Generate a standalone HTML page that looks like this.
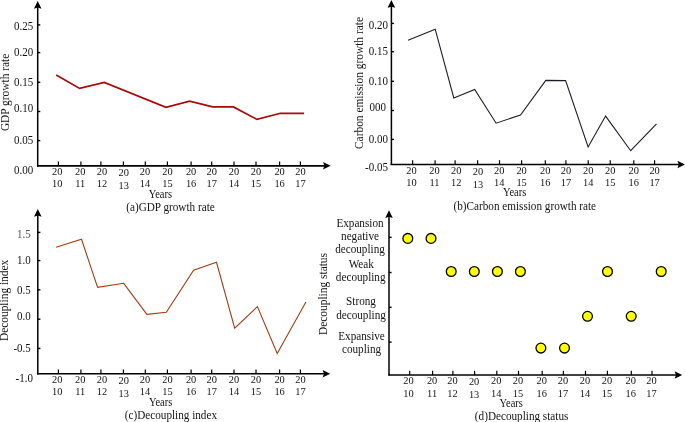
<!DOCTYPE html>
<html><head><meta charset="utf-8"><style>
html,body{margin:0;padding:0;background:#fff;}
svg{display:block;font-family:"Liberation Serif",serif;}
text{fill:#111;}
</style></head><body>
<svg width="685" height="422" viewBox="0 0 685 422">
<rect width="685" height="422" fill="#fff"/>
<line x1="37.7" y1="7" x2="37.7" y2="166.6" stroke="#000" stroke-width="1.5"/>
<polygon points="37.7,1 33.9,8.7 37.7,7.6 41.5,8.7" fill="#000"/>
<line x1="37" y1="165.8" x2="324.6" y2="165.8" stroke="#000" stroke-width="1.65"/>
<polygon points="330.6,165.8 323.0,162.0 324.4,165.8 323.0,169.6" fill="#000"/>
<line x1="58.4" y1="161.5" x2="58.4" y2="165.8" stroke="#000" stroke-width="1.2"/>
<line x1="80.9" y1="161.5" x2="80.9" y2="165.8" stroke="#000" stroke-width="1.2"/>
<line x1="100.9" y1="161.5" x2="100.9" y2="165.8" stroke="#000" stroke-width="1.2"/>
<line x1="123.4" y1="161.5" x2="123.4" y2="165.8" stroke="#000" stroke-width="1.2"/>
<line x1="145.3" y1="161.5" x2="145.3" y2="165.8" stroke="#000" stroke-width="1.2"/>
<line x1="167.4" y1="161.5" x2="167.4" y2="165.8" stroke="#000" stroke-width="1.2"/>
<line x1="191.1" y1="161.5" x2="191.1" y2="165.8" stroke="#000" stroke-width="1.2"/>
<line x1="211.7" y1="161.5" x2="211.7" y2="165.8" stroke="#000" stroke-width="1.2"/>
<line x1="234" y1="161.5" x2="234" y2="165.8" stroke="#000" stroke-width="1.2"/>
<line x1="256" y1="161.5" x2="256" y2="165.8" stroke="#000" stroke-width="1.2"/>
<line x1="279.6" y1="161.5" x2="279.6" y2="165.8" stroke="#000" stroke-width="1.2"/>
<line x1="300.4" y1="161.5" x2="300.4" y2="165.8" stroke="#000" stroke-width="1.2"/>
<line x1="37.7" y1="24.9" x2="40.3" y2="24.9" stroke="#000" stroke-width="1.4"/>
<line x1="37.7" y1="52.6" x2="40.3" y2="52.6" stroke="#000" stroke-width="1.4"/>
<line x1="37.7" y1="82.3" x2="40.3" y2="82.3" stroke="#000" stroke-width="1.4"/>
<line x1="37.7" y1="111.5" x2="40.3" y2="111.5" stroke="#000" stroke-width="1.4"/>
<line x1="37.7" y1="140.6" x2="40.3" y2="140.6" stroke="#000" stroke-width="1.4"/>
<polyline points="56.2,75 79.6,88.4 104.3,82.5 166,107.4 189.6,101.2 212.6,106.9 233.4,106.9 257,119.4 280.4,113.3 304.1,113.3" fill="none" stroke="#a80808" stroke-width="1.7" stroke-linejoin="miter"/>
<line x1="391.4" y1="6.1" x2="391.4" y2="164.9" stroke="#000" stroke-width="1.5"/>
<polygon points="391.4,0.1 387.6,7.8 391.4,6.7 395.2,7.8" fill="#000"/>
<line x1="390.6" y1="164.5" x2="679" y2="164.5" stroke="#000" stroke-width="1.65"/>
<polygon points="685,164.5 677.4,160.7 678.8,164.5 677.4,168.3" fill="#000"/>
<line x1="412.6" y1="160.2" x2="412.6" y2="164.5" stroke="#000" stroke-width="1.2"/>
<line x1="435.1" y1="160.2" x2="435.1" y2="164.5" stroke="#000" stroke-width="1.2"/>
<line x1="455.1" y1="160.2" x2="455.1" y2="164.5" stroke="#000" stroke-width="1.2"/>
<line x1="477.6" y1="160.2" x2="477.6" y2="164.5" stroke="#000" stroke-width="1.2"/>
<line x1="499.5" y1="160.2" x2="499.5" y2="164.5" stroke="#000" stroke-width="1.2"/>
<line x1="521.6" y1="160.2" x2="521.6" y2="164.5" stroke="#000" stroke-width="1.2"/>
<line x1="545.3" y1="160.2" x2="545.3" y2="164.5" stroke="#000" stroke-width="1.2"/>
<line x1="565.9" y1="160.2" x2="565.9" y2="164.5" stroke="#000" stroke-width="1.2"/>
<line x1="588.2" y1="160.2" x2="588.2" y2="164.5" stroke="#000" stroke-width="1.2"/>
<line x1="610.2" y1="160.2" x2="610.2" y2="164.5" stroke="#000" stroke-width="1.2"/>
<line x1="633.8" y1="160.2" x2="633.8" y2="164.5" stroke="#000" stroke-width="1.2"/>
<line x1="654.6" y1="160.2" x2="654.6" y2="164.5" stroke="#000" stroke-width="1.2"/>
<line x1="391.3" y1="23.4" x2="393.9" y2="23.4" stroke="#000" stroke-width="1.4"/>
<line x1="391.3" y1="51.7" x2="393.9" y2="51.7" stroke="#000" stroke-width="1.4"/>
<line x1="391.3" y1="81.3" x2="393.9" y2="81.3" stroke="#000" stroke-width="1.4"/>
<line x1="391.3" y1="110.5" x2="393.9" y2="110.5" stroke="#000" stroke-width="1.4"/>
<line x1="391.3" y1="139.4" x2="393.9" y2="139.4" stroke="#000" stroke-width="1.4"/>
<polyline points="408.1,40.3 435.2,29.2 453.8,97.9 474.7,89.4 496.1,123.2 520.5,115 545.8,80.4 565.6,80.6 588.1,146.9 605.6,116.1 630.7,150.7 656.5,123.9" fill="none" stroke="#1c1c28" stroke-width="1.1" stroke-linejoin="miter"/>
<line x1="37.8" y1="215" x2="37.8" y2="374.5" stroke="#000" stroke-width="1.5"/>
<polygon points="37.8,209 34.0,216.7 37.8,215.6 41.6,216.7" fill="#000"/>
<line x1="37" y1="373.7" x2="324.2" y2="373.7" stroke="#000" stroke-width="1.65"/>
<polygon points="330.2,373.7 322.6,369.9 324.0,373.7 322.6,377.5" fill="#000"/>
<line x1="58.4" y1="369.4" x2="58.4" y2="373.7" stroke="#000" stroke-width="1.2"/>
<line x1="80.9" y1="369.4" x2="80.9" y2="373.7" stroke="#000" stroke-width="1.2"/>
<line x1="100.9" y1="369.4" x2="100.9" y2="373.7" stroke="#000" stroke-width="1.2"/>
<line x1="123.4" y1="369.4" x2="123.4" y2="373.7" stroke="#000" stroke-width="1.2"/>
<line x1="145.3" y1="369.4" x2="145.3" y2="373.7" stroke="#000" stroke-width="1.2"/>
<line x1="167.4" y1="369.4" x2="167.4" y2="373.7" stroke="#000" stroke-width="1.2"/>
<line x1="191.1" y1="369.4" x2="191.1" y2="373.7" stroke="#000" stroke-width="1.2"/>
<line x1="211.7" y1="369.4" x2="211.7" y2="373.7" stroke="#000" stroke-width="1.2"/>
<line x1="234" y1="369.4" x2="234" y2="373.7" stroke="#000" stroke-width="1.2"/>
<line x1="256" y1="369.4" x2="256" y2="373.7" stroke="#000" stroke-width="1.2"/>
<line x1="279.6" y1="369.4" x2="279.6" y2="373.7" stroke="#000" stroke-width="1.2"/>
<line x1="300.4" y1="369.4" x2="300.4" y2="373.7" stroke="#000" stroke-width="1.2"/>
<line x1="37.8" y1="232.4" x2="40.4" y2="232.4" stroke="#000" stroke-width="1.4"/>
<line x1="37.8" y1="260.6" x2="40.4" y2="260.6" stroke="#000" stroke-width="1.4"/>
<line x1="37.8" y1="289.8" x2="40.4" y2="289.8" stroke="#000" stroke-width="1.4"/>
<line x1="37.8" y1="319.2" x2="40.4" y2="319.2" stroke="#000" stroke-width="1.4"/>
<line x1="37.8" y1="348.4" x2="40.4" y2="348.4" stroke="#000" stroke-width="1.4"/>
<polyline points="56.1,247.3 81.5,239.3 97.6,287.3 123.7,283.3 146.9,314.3 166.3,312.3 193.6,270.3 216.5,262.3 234.7,328.2 257.4,306.6 277.2,353.5 305.9,302.1" fill="none" stroke="#a03e10" stroke-width="1.1" stroke-linejoin="miter"/>
<line x1="389" y1="216.2" x2="389" y2="375.5" stroke="#000" stroke-width="1.5"/>
<polygon points="389,210.2 385.2,217.9 389,216.8 392.8,217.9" fill="#000"/>
<line x1="388.3" y1="375.0" x2="676.2" y2="375.0" stroke="#000" stroke-width="1.65"/>
<polygon points="682.2,375.0 674.6,371.2 676.0,375.0 674.6,378.8" fill="#000"/>
<line x1="409.7" y1="370.7" x2="409.7" y2="375.0" stroke="#000" stroke-width="1.2"/>
<line x1="432.6" y1="370.7" x2="432.6" y2="375.0" stroke="#000" stroke-width="1.2"/>
<line x1="452.9" y1="370.7" x2="452.9" y2="375.0" stroke="#000" stroke-width="1.2"/>
<line x1="474.6" y1="370.7" x2="474.6" y2="375.0" stroke="#000" stroke-width="1.2"/>
<line x1="496.8" y1="370.7" x2="496.8" y2="375.0" stroke="#000" stroke-width="1.2"/>
<line x1="518.5" y1="370.7" x2="518.5" y2="375.0" stroke="#000" stroke-width="1.2"/>
<line x1="542.2" y1="370.7" x2="542.2" y2="375.0" stroke="#000" stroke-width="1.2"/>
<line x1="563.4" y1="370.7" x2="563.4" y2="375.0" stroke="#000" stroke-width="1.2"/>
<line x1="585.5" y1="370.7" x2="585.5" y2="375.0" stroke="#000" stroke-width="1.2"/>
<line x1="607.4" y1="370.7" x2="607.4" y2="375.0" stroke="#000" stroke-width="1.2"/>
<line x1="631.3" y1="370.7" x2="631.3" y2="375.0" stroke="#000" stroke-width="1.2"/>
<line x1="652" y1="370.7" x2="652" y2="375.0" stroke="#000" stroke-width="1.2"/>
<line x1="389" y1="237.3" x2="391.6" y2="237.3" stroke="#000" stroke-width="1.4"/>
<line x1="389" y1="272.5" x2="391.6" y2="272.5" stroke="#000" stroke-width="1.4"/>
<line x1="389" y1="307.3" x2="391.6" y2="307.3" stroke="#000" stroke-width="1.4"/>
<line x1="389" y1="342.1" x2="391.6" y2="342.1" stroke="#000" stroke-width="1.4"/>
<circle cx="407.8" cy="238.4" r="4.9" fill="#ffff00" stroke="#000" stroke-width="1.3"/>
<circle cx="431" cy="238.4" r="4.9" fill="#ffff00" stroke="#000" stroke-width="1.3"/>
<circle cx="451.2" cy="271.5" r="4.9" fill="#ffff00" stroke="#000" stroke-width="1.3"/>
<circle cx="474.3" cy="271.5" r="4.9" fill="#ffff00" stroke="#000" stroke-width="1.3"/>
<circle cx="497.4" cy="271.5" r="4.9" fill="#ffff00" stroke="#000" stroke-width="1.3"/>
<circle cx="520.4" cy="271.5" r="4.9" fill="#ffff00" stroke="#000" stroke-width="1.3"/>
<circle cx="607.5" cy="271.5" r="4.9" fill="#ffff00" stroke="#000" stroke-width="1.3"/>
<circle cx="661.2" cy="271.5" r="4.9" fill="#ffff00" stroke="#000" stroke-width="1.3"/>
<circle cx="587.5" cy="316.3" r="4.9" fill="#ffff00" stroke="#000" stroke-width="1.3"/>
<circle cx="631.2" cy="316.3" r="4.9" fill="#ffff00" stroke="#000" stroke-width="1.3"/>
<circle cx="540.9" cy="348.1" r="4.9" fill="#ffff00" stroke="#000" stroke-width="1.3"/>
<circle cx="564.5" cy="348.1" r="4.9" fill="#ffff00" stroke="#000" stroke-width="1.3"/>
<g opacity="0.99">
<text transform="translate(57.3,174.8) scale(1,1.08)" text-anchor="middle" font-size="10.4">20</text>
<text transform="translate(57.3,187.4) scale(1,1.08)" text-anchor="middle" font-size="10.4">10</text>
<text transform="translate(80.2,174.8) scale(1,1.08)" text-anchor="middle" font-size="10.4">20</text>
<text transform="translate(80.2,187.4) scale(1,1.08)" text-anchor="middle" font-size="10.4">11</text>
<text transform="translate(102,174.8) scale(1,1.08)" text-anchor="middle" font-size="10.4">20</text>
<text transform="translate(102,187.4) scale(1,1.08)" text-anchor="middle" font-size="10.4">12</text>
<text transform="translate(123.8,176.0) scale(1,1.08)" text-anchor="middle" font-size="10.4">20</text>
<text transform="translate(123.8,188.6) scale(1,1.08)" text-anchor="middle" font-size="10.4">13</text>
<text transform="translate(145,174.8) scale(1,1.08)" text-anchor="middle" font-size="10.4">20</text>
<text transform="translate(145,187.4) scale(1,1.08)" text-anchor="middle" font-size="10.4">14</text>
<text transform="translate(167.4,174.8) scale(1,1.08)" text-anchor="middle" font-size="10.4">20</text>
<text transform="translate(167.4,187.4) scale(1,1.08)" text-anchor="middle" font-size="10.4">15</text>
<text transform="translate(191.1,174.8) scale(1,1.08)" text-anchor="middle" font-size="10.4">20</text>
<text transform="translate(191.1,187.4) scale(1,1.08)" text-anchor="middle" font-size="10.4">16</text>
<text transform="translate(211.7,174.8) scale(1,1.08)" text-anchor="middle" font-size="10.4">20</text>
<text transform="translate(211.7,187.4) scale(1,1.08)" text-anchor="middle" font-size="10.4">17</text>
<text transform="translate(234,174.8) scale(1,1.08)" text-anchor="middle" font-size="10.4">20</text>
<text transform="translate(234,187.4) scale(1,1.08)" text-anchor="middle" font-size="10.4">14</text>
<text transform="translate(256,174.8) scale(1,1.08)" text-anchor="middle" font-size="10.4">20</text>
<text transform="translate(256,187.4) scale(1,1.08)" text-anchor="middle" font-size="10.4">15</text>
<text transform="translate(279.6,174.8) scale(1,1.08)" text-anchor="middle" font-size="10.4">20</text>
<text transform="translate(279.6,187.4) scale(1,1.08)" text-anchor="middle" font-size="10.4">16</text>
<text transform="translate(300.4,174.8) scale(1,1.08)" text-anchor="middle" font-size="10.4">20</text>
<text transform="translate(300.4,187.4) scale(1,1.08)" text-anchor="middle" font-size="10.4">17</text>
<text transform="translate(33.2,29.5) scale(1,1.17)" text-anchor="end" font-size="11">0.25</text>
<text transform="translate(33.2,56.1) scale(1,1.17)" text-anchor="end" font-size="11">0.20</text>
<text transform="translate(33.2,86.1) scale(1,1.17)" text-anchor="end" font-size="11">0.15</text>
<text transform="translate(33.2,112.2) scale(1,1.17)" text-anchor="end" font-size="11">0.10</text>
<text transform="translate(33.2,143.8) scale(1,1.17)" text-anchor="end" font-size="11">0.05</text>
<text transform="translate(33.2,173.6) scale(1,1.17)" text-anchor="end" font-size="11">0.00</text>
<text transform="translate(160.4,197.5) scale(1,1.12)" text-anchor="middle" font-size="10.5">Years</text>
<text transform="translate(170.5,211.1) scale(1,1.17)" text-anchor="middle" font-size="11.2">(a)GDP growth rate</text>
<text transform="translate(8.5,92.4) rotate(-90) scale(1,1.04)" text-anchor="middle" font-size="11.4">GDP growth rate</text>
<text transform="translate(411.5,174.1) scale(1,1.08)" text-anchor="middle" font-size="10.4">20</text>
<text transform="translate(411.5,186.4) scale(1,1.08)" text-anchor="middle" font-size="10.4">10</text>
<text transform="translate(434.4,174.1) scale(1,1.08)" text-anchor="middle" font-size="10.4">20</text>
<text transform="translate(434.4,186.4) scale(1,1.08)" text-anchor="middle" font-size="10.4">11</text>
<text transform="translate(456.2,174.1) scale(1,1.08)" text-anchor="middle" font-size="10.4">20</text>
<text transform="translate(456.2,186.4) scale(1,1.08)" text-anchor="middle" font-size="10.4">12</text>
<text transform="translate(478.0,175.3) scale(1,1.08)" text-anchor="middle" font-size="10.4">20</text>
<text transform="translate(478.0,187.6) scale(1,1.08)" text-anchor="middle" font-size="10.4">13</text>
<text transform="translate(499.2,174.1) scale(1,1.08)" text-anchor="middle" font-size="10.4">20</text>
<text transform="translate(499.2,186.4) scale(1,1.08)" text-anchor="middle" font-size="10.4">14</text>
<text transform="translate(521.6,174.1) scale(1,1.08)" text-anchor="middle" font-size="10.4">20</text>
<text transform="translate(521.6,186.4) scale(1,1.08)" text-anchor="middle" font-size="10.4">15</text>
<text transform="translate(545.3,174.1) scale(1,1.08)" text-anchor="middle" font-size="10.4">20</text>
<text transform="translate(545.3,186.4) scale(1,1.08)" text-anchor="middle" font-size="10.4">16</text>
<text transform="translate(565.9,174.1) scale(1,1.08)" text-anchor="middle" font-size="10.4">20</text>
<text transform="translate(565.9,186.4) scale(1,1.08)" text-anchor="middle" font-size="10.4">17</text>
<text transform="translate(588.2,174.1) scale(1,1.08)" text-anchor="middle" font-size="10.4">20</text>
<text transform="translate(588.2,186.4) scale(1,1.08)" text-anchor="middle" font-size="10.4">14</text>
<text transform="translate(610.2,174.1) scale(1,1.08)" text-anchor="middle" font-size="10.4">20</text>
<text transform="translate(610.2,186.4) scale(1,1.08)" text-anchor="middle" font-size="10.4">15</text>
<text transform="translate(633.8,174.1) scale(1,1.08)" text-anchor="middle" font-size="10.4">20</text>
<text transform="translate(633.8,186.4) scale(1,1.08)" text-anchor="middle" font-size="10.4">16</text>
<text transform="translate(654.6,174.1) scale(1,1.08)" text-anchor="middle" font-size="10.4">20</text>
<text transform="translate(654.6,186.4) scale(1,1.08)" text-anchor="middle" font-size="10.4">17</text>
<text transform="translate(388,28.5) scale(1,1.17)" text-anchor="end" font-size="11">0.20</text>
<text transform="translate(388,55) scale(1,1.17)" text-anchor="end" font-size="11">0.15</text>
<text transform="translate(388,84.7) scale(1,1.17)" text-anchor="end" font-size="11">0.10</text>
<text transform="translate(386,111.2) scale(1,1.17)" text-anchor="end" font-size="11">000</text>
<text transform="translate(388,143.1) scale(1,1.17)" text-anchor="end" font-size="11">0.00</text>
<text transform="translate(388,171.1) scale(1,1.17)" text-anchor="end" font-size="11">-0.05</text>
<text transform="translate(514.6,196.4) scale(1,1.12)" text-anchor="middle" font-size="10.5">Years</text>
<text transform="translate(524.8,209.8) scale(1,1.17)" text-anchor="middle" font-size="11.2">(b)Carbon emission growth rate</text>
<text transform="translate(362.8,83.0) rotate(-90) scale(1,1.04)" text-anchor="middle" font-size="11.4">Carbon emission growth rate</text>
<text transform="translate(57.3,382.8) scale(1,1.08)" text-anchor="middle" font-size="10.4">20</text>
<text transform="translate(57.3,395.4) scale(1,1.08)" text-anchor="middle" font-size="10.4">10</text>
<text transform="translate(80.2,382.8) scale(1,1.08)" text-anchor="middle" font-size="10.4">20</text>
<text transform="translate(80.2,395.4) scale(1,1.08)" text-anchor="middle" font-size="10.4">11</text>
<text transform="translate(102,382.8) scale(1,1.08)" text-anchor="middle" font-size="10.4">20</text>
<text transform="translate(102,395.4) scale(1,1.08)" text-anchor="middle" font-size="10.4">12</text>
<text transform="translate(123.8,384.0) scale(1,1.08)" text-anchor="middle" font-size="10.4">20</text>
<text transform="translate(123.8,396.6) scale(1,1.08)" text-anchor="middle" font-size="10.4">13</text>
<text transform="translate(145,382.8) scale(1,1.08)" text-anchor="middle" font-size="10.4">20</text>
<text transform="translate(145,395.4) scale(1,1.08)" text-anchor="middle" font-size="10.4">14</text>
<text transform="translate(167.4,382.8) scale(1,1.08)" text-anchor="middle" font-size="10.4">20</text>
<text transform="translate(167.4,395.4) scale(1,1.08)" text-anchor="middle" font-size="10.4">15</text>
<text transform="translate(191.1,382.8) scale(1,1.08)" text-anchor="middle" font-size="10.4">20</text>
<text transform="translate(191.1,395.4) scale(1,1.08)" text-anchor="middle" font-size="10.4">16</text>
<text transform="translate(211.7,382.8) scale(1,1.08)" text-anchor="middle" font-size="10.4">20</text>
<text transform="translate(211.7,395.4) scale(1,1.08)" text-anchor="middle" font-size="10.4">17</text>
<text transform="translate(234,382.8) scale(1,1.08)" text-anchor="middle" font-size="10.4">20</text>
<text transform="translate(234,395.4) scale(1,1.08)" text-anchor="middle" font-size="10.4">14</text>
<text transform="translate(256,382.8) scale(1,1.08)" text-anchor="middle" font-size="10.4">20</text>
<text transform="translate(256,395.4) scale(1,1.08)" text-anchor="middle" font-size="10.4">15</text>
<text transform="translate(279.6,382.8) scale(1,1.08)" text-anchor="middle" font-size="10.4">20</text>
<text transform="translate(279.6,395.4) scale(1,1.08)" text-anchor="middle" font-size="10.4">16</text>
<text transform="translate(300.4,382.8) scale(1,1.08)" text-anchor="middle" font-size="10.4">20</text>
<text transform="translate(300.4,395.4) scale(1,1.08)" text-anchor="middle" font-size="10.4">17</text>
<text transform="translate(30.8,238.0) scale(1,1.17)" text-anchor="end" font-size="11" style="fill:#555">1.5</text>
<text transform="translate(30.8,264.2) scale(1,1.17)" text-anchor="end" font-size="11">1.0</text>
<text transform="translate(30.8,293.7) scale(1,1.17)" text-anchor="end" font-size="11">0.5</text>
<text transform="translate(30.8,320) scale(1,1.17)" text-anchor="end" font-size="11">0.0</text>
<text transform="translate(30.8,351.9) scale(1,1.17)" text-anchor="end" font-size="11">-0.5</text>
<text transform="translate(32.9,382) scale(1,1.17)" text-anchor="end" font-size="11">-1.0</text>
<text transform="translate(160.6,405.7) scale(1,1.12)" text-anchor="middle" font-size="10.5">Years</text>
<text transform="translate(170.9,418.5) scale(1,1.17)" text-anchor="middle" font-size="11.2">(c)Decoupling index</text>
<text transform="translate(8.2,300.4) rotate(-90) scale(1,1.04)" text-anchor="middle" font-size="11.4">Decoupling index</text>
<text transform="translate(408.5,383.6) scale(1,1.08)" text-anchor="middle" font-size="10.4">20</text>
<text transform="translate(408.5,397.0) scale(1,1.08)" text-anchor="middle" font-size="10.4">10</text>
<text transform="translate(432.1,383.6) scale(1,1.08)" text-anchor="middle" font-size="10.4">20</text>
<text transform="translate(432.1,397.0) scale(1,1.08)" text-anchor="middle" font-size="10.4">11</text>
<text transform="translate(452.4,383.6) scale(1,1.08)" text-anchor="middle" font-size="10.4">20</text>
<text transform="translate(452.4,397.0) scale(1,1.08)" text-anchor="middle" font-size="10.4">12</text>
<text transform="translate(474.1,384.8) scale(1,1.08)" text-anchor="middle" font-size="10.4">20</text>
<text transform="translate(474.1,398.2) scale(1,1.08)" text-anchor="middle" font-size="10.4">13</text>
<text transform="translate(496.3,383.6) scale(1,1.08)" text-anchor="middle" font-size="10.4">20</text>
<text transform="translate(496.3,397.0) scale(1,1.08)" text-anchor="middle" font-size="10.4">14</text>
<text transform="translate(518.0,383.6) scale(1,1.08)" text-anchor="middle" font-size="10.4">20</text>
<text transform="translate(518.0,397.0) scale(1,1.08)" text-anchor="middle" font-size="10.4">15</text>
<text transform="translate(541.7,383.6) scale(1,1.08)" text-anchor="middle" font-size="10.4">20</text>
<text transform="translate(541.7,397.0) scale(1,1.08)" text-anchor="middle" font-size="10.4">16</text>
<text transform="translate(562.9,383.6) scale(1,1.08)" text-anchor="middle" font-size="10.4">20</text>
<text transform="translate(562.9,397.0) scale(1,1.08)" text-anchor="middle" font-size="10.4">17</text>
<text transform="translate(585.0,383.6) scale(1,1.08)" text-anchor="middle" font-size="10.4">20</text>
<text transform="translate(585.0,397.0) scale(1,1.08)" text-anchor="middle" font-size="10.4">14</text>
<text transform="translate(606.9,383.6) scale(1,1.08)" text-anchor="middle" font-size="10.4">20</text>
<text transform="translate(606.9,397.0) scale(1,1.08)" text-anchor="middle" font-size="10.4">15</text>
<text transform="translate(630.8,383.6) scale(1,1.08)" text-anchor="middle" font-size="10.4">20</text>
<text transform="translate(630.8,397.0) scale(1,1.08)" text-anchor="middle" font-size="10.4">16</text>
<text transform="translate(651.5,383.6) scale(1,1.08)" text-anchor="middle" font-size="10.4">20</text>
<text transform="translate(651.5,397.0) scale(1,1.08)" text-anchor="middle" font-size="10.4">17</text>
<text transform="translate(360,226.7) scale(1,1.07)" text-anchor="middle" font-size="11.2">Expansion</text>
<text transform="translate(360,239.9) scale(1,1.07)" text-anchor="middle" font-size="11.2">negative</text>
<text transform="translate(360,253.2) scale(1,1.07)" text-anchor="middle" font-size="11.2">decoupling</text>
<text transform="translate(361.3,267.9) scale(1,1.07)" text-anchor="middle" font-size="11.2">Weak</text>
<text transform="translate(360.7,281.3) scale(1,1.07)" text-anchor="middle" font-size="11.2">decoupling</text>
<text transform="translate(361,305.4) scale(1,1.07)" text-anchor="middle" font-size="11.2">Strong</text>
<text transform="translate(361,318.8) scale(1,1.07)" text-anchor="middle" font-size="11.2">decoupling</text>
<text transform="translate(361.5,340.1) scale(1,1.07)" text-anchor="middle" font-size="11.2">Expansive</text>
<text transform="translate(361.5,353.3) scale(1,1.07)" text-anchor="middle" font-size="11.2">coupling</text>
<text transform="translate(511.2,406.5) scale(1,1.12)" text-anchor="middle" font-size="10.5">Years</text>
<text transform="translate(521.6,419.5) scale(1,1.17)" text-anchor="middle" font-size="11.2">(d)Decoupling status</text>
<text transform="translate(326.5,294.0) rotate(-90) scale(1,1.04)" text-anchor="middle" font-size="11.4">Decoupling status</text>
</g>
</svg>
</body></html>
